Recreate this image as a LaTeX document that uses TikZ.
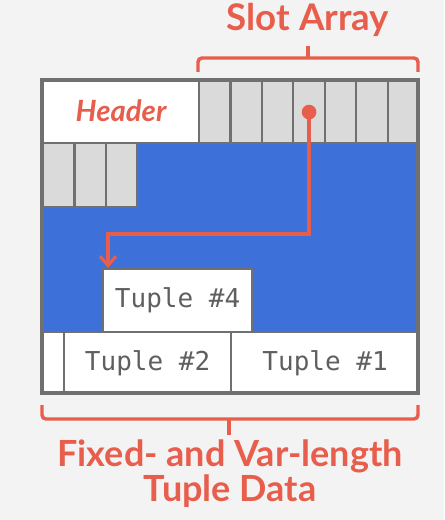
\documentclass[tikz,border=0pt]{standalone}
\usepackage{fontspec}
\setmainfont{Lato}
\setmonofont{DejaVu Sans Mono}
\usetikzlibrary{arrows.meta}

\definecolor{coral}{RGB}{232,94,76}
\definecolor{freeblue}{RGB}{61,112,216}
\definecolor{cellgray}{RGB}{218,218,218}
\definecolor{edgegray}{RGB}{112,112,112}
\definecolor{pagegray}{RGB}{243,243,243}
\definecolor{textgray}{RGB}{95,95,95}

\newcommand{\px}{0.75pt}

\tikzset{
  cell/.style={draw=edgegray, line width=1.6pt, inner sep=0pt, anchor=north west},
  slotcell/.style={cell, fill=cellgray, minimum width=31.43*\px},
  datacell/.style={cell, fill=white, text=textgray, font=\ttfamily\fontsize{19.5}{22}\selectfont},
  brace/.style={draw=coral, line width=2.6pt, rounded corners=3pt},
  ptr/.style={draw=coral, line width=2.6pt, -{Straight Barb[length=7pt,width=12pt,line width=2.4pt]}},
  caption/.style={text=coral, inner sep=0pt, anchor=base}
}

\begin{document}
\begin{tikzpicture}[x=0.75pt,y=0.75pt,yscale=-1,xscale=1]
\fill[pagegray] (0,0) rectangle (444,520);
\useasboundingbox (0,0) rectangle (444,520);

% free space
\fill[freeblue] (42,142) rectangle (418,331);

% header and slot array
\node[cell, fill=white, minimum width=156*\px, minimum height=62*\px] (header) at (42,80) {};
\node[text=coral, font=\bfseries\itshape\fontsize{22}{26}\selectfont, anchor=base] (headertext) at (121,122) {Header};
\foreach \i in {1,...,7}
  \node[slotcell, minimum height=62*\px] (s\i) at ({198+31.43*(\i-1)},80) {};
\foreach \i in {8,9,10}
  \node[slotcell, minimum height=64*\px] (s\i) at ({42+31.43*(\i-8)},142) {};

% tuples
\node[datacell, minimum width=149*\px, minimum height=63*\px] (t4) at (102,268) {Tuple \#4};
\node[datacell, minimum width=21*\px, minimum height=62*\px] (t0) at (42,331) {};
\node[datacell, minimum width=167*\px, minimum height=62*\px] (t2) at (63,331) {Tuple \#2};
\node[datacell, minimum width=188*\px, minimum height=62*\px] (t1) at (230,331) {Tuple \#1};

% page border
\draw[edgegray, line width=2.4pt] (42,80) rectangle (418,393);

% slot pointer
\coordinate (turn) at (108,234);
\fill[coral] (s4.center) circle (5.5pt);
\draw[ptr] (s4.center) |- (turn) -- (turn |- t4.north);

% braces
\draw[brace] (198,72) -- (198,58) -- (418,58) -- (418,72);
\draw[coral, line width=2.6pt] (308,58) -- (308,46);
\node[caption, font=\bfseries\fontsize{27.5}{32}\selectfont] (slotlabel) at (308,31) {Slot Array};

\draw[brace] (42,405) -- (42,419) -- (418,419) -- (418,405);
\draw[coral, line width=2.6pt] (229,419) -- (229,435);
\node[caption, align=center, font=\bfseries\fontsize{27}{23.5}\selectfont] (datalabel) at (230,501) {Fixed- and Var-length\\Tuple Data};
\end{tikzpicture}
\end{document}
